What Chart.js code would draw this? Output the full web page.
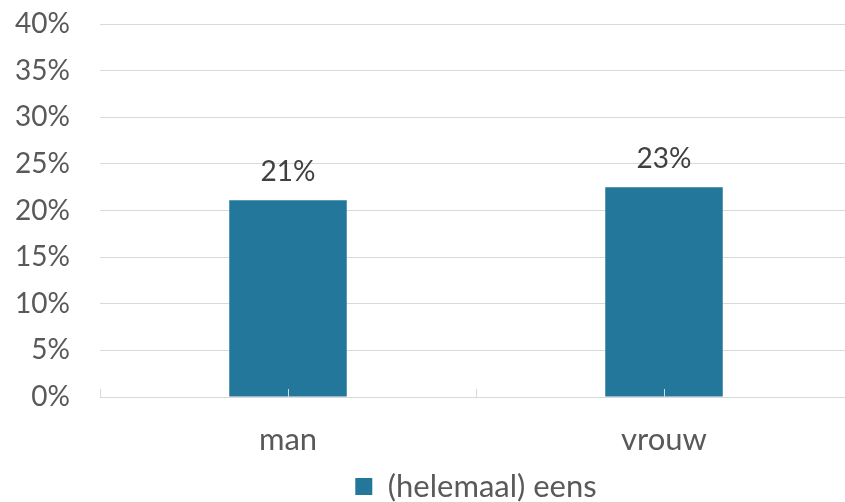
<!DOCTYPE html>
<html>
<head>
<meta charset="utf-8">
<script src="https://cdn.jsdelivr.net/npm/chart.js@4"></script>
<style>
  html, body { margin: 0; padding: 0; background: #fff; overflow: hidden; }
  #wrap { width: 845px; height: 502px; overflow: hidden; position: relative; }
  #box { width: 852px; height: 512px; position: absolute; left: 0; top: 0; }
</style>
</head>
<body>
<div id="wrap"><div id="box"><canvas id="chart"></canvas></div></div>
<script>
// data
const categories = ['man', 'vrouw'];
const values = [21.1, 22.5];
const seriesName = '(helemaal) eens';
const yMax = 40;
const yStep = 5;

const BAR = '#23779A';
const GRID = '#D9D9D9';
const TXT = '#595959';
const FONT = 'Lato, "Open Sans", sans-serif';

// value labels above bars
const barLabels = {
  id: 'barLabels',
  afterDatasetsDraw(chart) {
    const ctx = chart.ctx;
    const meta = chart.getDatasetMeta(0);
    ctx.save();
    ctx.font = '28px ' + FONT;
    ctx.fillStyle = '#404040';
    ctx.textAlign = 'center';
    ctx.textBaseline = 'middle';
    meta.data.forEach((bar, i) => {
      ctx.fillText(Math.round(values[i]) + '%', bar.x, bar.y - 28);
    });
    ctx.restore();
  }
};

// small upward tick marks on the category axis
const axisTicks = {
  id: 'axisTicks',
  afterDatasetsDraw(chart) {
    const x = chart.scales.x;
    const ctx = chart.ctx;
    const half = (x.right - x.left) / categories.length / 2;
    ctx.save();
    ctx.strokeStyle = GRID;
    ctx.lineWidth = 1;
    for (let k = 0; k <= categories.length * 2; k++) {
      const px = Math.round(x.left + k * half) + 0.5;
      ctx.beginPath();
      ctx.moveTo(px, x.top);
      ctx.lineTo(px, x.top - 8);
      ctx.stroke();
    }
    ctx.restore();
  }
};

new Chart(document.getElementById('chart'), {
  type: 'bar',
  data: {
    labels: categories,
    datasets: [{
      label: seriesName,
      data: values,
      backgroundColor: BAR,
      borderWidth: 0,
      categoryPercentage: 1,
      barPercentage: 0.3125
    }]
  },
  options: {
    responsive: true,
    maintainAspectRatio: false,
    animation: false,
    layout: { padding: { top: 24, right: 0, left: 0, bottom: 0 } },
    plugins: {
      tooltip: { enabled: false },
      legend: {
        position: 'bottom',
        fullSize: false,
        labels: {
          boxWidth: 17,
          boxHeight: 17,
          padding: 0,
          color: TXT,
          font: { family: FONT, size: 31 }
        }
      }
    },
    scales: {
      x: {
        grid: { display: false },
        border: { color: GRID },
        ticks: { color: TXT, padding: 16, font: { family: FONT, size: 31 } },
        afterFit: s => { s.height = 74; }
      },
      y: {
        min: 0,
        max: yMax,
        grid: { color: GRID, drawTicks: false },
        border: { display: false },
        ticks: {
          stepSize: yStep,
          padding: 30,
          color: TXT,
          font: { family: FONT, size: 28 },
          callback: v => v + '%'
        },
        afterFit: s => {
          s.width = 100;
          s.paddingTop = 0;
          s.paddingBottom = 0;
        }
      }
    }
  },
  plugins: [barLabels, axisTicks]
});
</script>
</body>
</html>
